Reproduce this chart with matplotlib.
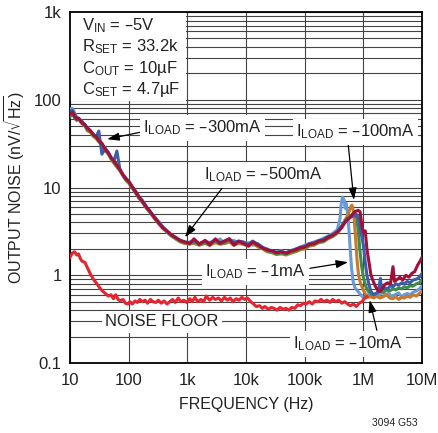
import numpy as np
import matplotlib.pyplot as plt
from matplotlib.patches import Rectangle
from matplotlib.ticker import LogLocator, NullLocator

plt.rcParams['font.family'] = ['Liberation Sans Narrow', 'Liberation Sans', 'DejaVu Sans']
plt.rcParams['mathtext.default'] = 'regular'

# frequency grid shared by the low/mid part of the load curves (Hz)
f_body = [10, 11, 12, 13, 14, 16, 18, 20, 22, 25, 28, 31, 35, 40, 45, 50, 56, 63, 71, 80,
          90, 100, 115, 130, 150, 170, 200, 230, 270, 320, 380, 450, 530, 630, 750, 900,
          1.1e3, 1.3e3, 1.6e3, 2e3, 2.4e3, 3e3, 3.6e3, 4.3e3, 5.2e3, 6.2e3, 7.5e3, 9e3,
          11e3, 13e3, 16e3, 19e3, 23e3, 28e3, 33e3, 40e3, 48e3, 58e3, 70e3, 84e3,
          100e3, 120e3, 145e3, 175e3, 210e3, 250e3, 300e3, 360e3]

# ILOAD = -1mA (light blue)
lb_body = [78, 80, 70, 64, 60, 57, 50, 48, 44, 41, 37, 35, 31, 28, 24, 22, 19, 17.5, 15.5, 14,
           12.8, 11.5, 10, 9.2, 7.6, 7.2, 6.1, 5.2, 4.7, 4.1, 3.6, 3.1, 2.9, 2.6, 2.5, 2.3,
           2.4, 2.3, 2.2, 2.45, 2.3, 2.4, 2.6, 2.3, 2.4, 2.5, 2.3, 2.3,
           2.35, 2.2, 2.3, 2.05, 2.0, 1.85, 1.85, 1.9, 1.8, 1.9, 2.0, 2.1,
           2.2, 2.3, 2.4, 2.5, 2.65, 2.8, 3.0, 3.3]
lb_tail_f = [400e3, 420e3, 440e3, 470e3, 490e3, 510e3, 540e3, 570e3, 600e3, 630e3, 670e3,
             720e3, 800e3, 900e3, 1.0e6, 1.1e6, 1.2e6, 1.35e6, 1.5e6, 1.7e6, 1.9e6, 2.1e6,
             2.4e6, 2.7e6, 3e6, 3.5e6, 4e6, 4.5e6, 5e6, 5.6e6, 6.3e6, 7e6, 8e6, 9e6, 10e6]
lb_tail = [4.4, 6.5, 7.8, 7.2, 5.8, 6.6, 5.0, 3.2, 1.9, 1.2, 0.85,
           0.72, 0.66, 0.6, 0.56, 0.55, 0.6, 0.62, 0.58, 0.62, 0.6, 0.64,
           0.6, 0.62, 0.58, 0.6, 0.63, 0.57, 0.6, 0.62, 0.6, 0.64, 0.66, 0.7, 0.75]

# ILOAD = -10mA (orange)
or_body = [66, 70, 62, 58, 60, 53, 50, 44, 43, 38, 36, 33, 30, 26, 24, 21, 19, 17, 15.5, 13.5,
           12, 11.2, 9.8, 8.7, 7.5, 6.8, 5.8, 5.2, 4.5, 3.9, 3.4, 3.1, 2.8, 2.6, 2.4, 2.3,
           2.25, 2.35, 2.2, 2.3, 2.2, 2.35, 2.25, 2.3, 2.4, 2.2, 2.3, 2.25,
           2.15, 2.3, 2.1, 2.0, 1.85, 1.8, 1.72, 1.75, 1.7, 1.78, 1.85, 1.95,
           2.0, 2.15, 2.2, 2.35, 2.4, 2.6, 2.75, 3.0]
or_tail_f = [400e3, 460e3, 520e3, 570e3, 610e3, 640e3, 670e3, 700e3, 740e3, 780e3, 830e3,
             900e3, 1.0e6, 1.1e6, 1.2e6, 1.35e6, 1.5e6, 1.7e6, 1.9e6, 2.2e6, 2.5e6, 2.8e6,
             3.2e6, 3.6e6, 4e6, 4.5e6, 5e6, 5.6e6, 6.3e6, 7e6, 8e6, 9e6, 10e6]
or_tail = [3.3, 4.0, 4.6, 5.3, 6.0, 6.3, 5.6, 4.3, 2.6, 1.5, 1.0,
           0.8, 0.68, 0.6, 0.56, 0.57, 0.55, 0.58, 0.55, 0.57, 0.6, 0.55,
           0.54, 0.57, 0.53, 0.56, 0.55, 0.58, 0.56, 0.6, 0.58, 0.62, 0.66]

# ILOAD = -100mA (green)
gr_body = [64, 69, 63, 59, 61, 54, 51, 45, 44, 39, 37, 34, 31, 27, 24.5, 21.5, 19.5, 17.5, 15.8, 13.8,
           12.2, 11.5, 10, 8.9, 7.6, 6.9, 5.9, 5.3, 4.6, 4.0, 3.5, 3.15, 2.85, 2.65, 2.45, 2.35,
           2.3, 2.4, 2.25, 2.35, 2.3, 2.45, 2.3, 2.35, 2.5, 2.3, 2.4, 2.3,
           2.2, 2.35, 2.2, 2.05, 1.9, 1.85, 1.76, 1.8, 1.75, 1.83, 1.9, 2.0,
           2.05, 2.2, 2.25, 2.4, 2.45, 2.65, 2.8, 3.05]
gr_tail_f = [400e3, 460e3, 520e3, 580e3, 640e3, 700e3, 740e3, 780e3, 820e3, 870e3, 930e3,
             1.0e6, 1.1e6, 1.2e6, 1.35e6, 1.5e6, 1.7e6, 1.9e6, 2.2e6, 2.5e6, 2.8e6, 3.2e6,
             3.6e6, 4e6, 4.5e6, 5e6, 5.6e6, 6.3e6, 7e6, 8e6, 9e6, 10e6]
gr_tail = [3.4, 3.9, 4.4, 4.6, 4.9, 5.3, 5.0, 4.3, 3.2, 2.0, 1.3,
           0.95, 0.75, 0.66, 0.62, 0.6, 0.63, 0.66, 0.64, 0.68, 0.66, 0.7,
           0.68, 0.72, 0.7, 0.74, 0.72, 0.76, 0.75, 0.8, 0.82, 0.88]

# ILOAD = -300mA (blue)
bl_body = [74, 76, 68, 62, 61, 56, 51, 47, 44, 40, 38, 44, 24, 28, 25, 22, 20, 26, 16, 14,
           12.6, 11.8, 10.2, 9.1, 7.9, 7.1, 6.0, 5.3, 4.7, 4.1, 3.55, 3.2, 2.9, 2.7, 2.5, 2.4,
           2.35, 2.5, 2.3, 2.45, 2.35, 2.5, 2.35, 2.45, 2.6, 2.35, 2.45, 2.4,
           2.25, 2.45, 2.25, 2.1, 1.95, 1.88, 1.82, 1.86, 1.8, 1.9, 1.97, 2.08,
           2.12, 2.28, 2.33, 2.48, 2.55, 2.75, 2.9, 3.15]
bl_tail_f = [400e3, 460e3, 520e3, 580e3, 650e3, 720e3, 770e3, 820e3, 870e3, 920e3, 1.0e6,
             1.08e6, 1.15e6, 1.25e6, 1.35e6, 1.5e6, 1.65e6, 1.8e6, 1.95e6, 2.05e6, 2.3e6,
             2.6e6, 2.9e6, 3.2e6, 3.6e6, 4e6, 4.5e6, 5e6, 5.6e6, 6.3e6, 7e6, 8e6, 9e6, 10e6]
bl_tail = [3.4, 3.9, 4.3, 4.5, 4.7, 4.8, 4.9, 4.6, 3.8, 3.0, 2.2,
           1.4, 1.0, 0.78, 0.65, 0.6, 0.62, 0.65, 0.92, 0.68, 0.72,
           0.7, 0.76, 0.74, 0.8, 0.77, 0.82, 0.8, 0.85, 0.82, 0.88, 0.9, 0.95, 1.05]

# ILOAD = -500mA (dark red)
dr_body = [68, 72, 64, 60, 62, 55, 52, 47, 45, 40, 38, 34, 32, 27, 25, 22, 20, 18, 16, 14,
           12.5, 11.8, 10.2, 9.0, 7.8, 7.0, 6.0, 5.4, 4.6, 4.0, 3.5, 3.2, 2.9, 2.7, 2.5, 2.4,
           2.3, 2.6, 2.25, 2.5, 2.2, 2.6, 2.3, 2.45, 2.6, 2.2, 2.45, 2.3,
           2.15, 2.4, 2.2, 2.05, 1.95, 1.9, 1.8, 1.85, 1.78, 1.88, 1.95, 2.05,
           2.1, 2.25, 2.3, 2.45, 2.5, 2.7, 2.85, 3.1]
dr_tail_f = [430e3, 500e3, 580e3, 650e3, 720e3, 810e3, 880e3, 950e3, 1.0e6, 1.08e6, 1.15e6,
             1.25e6, 1.35e6, 1.45e6, 1.6e6, 1.75e6, 1.9e6, 2.1e6, 2.3e6, 2.6e6, 2.9e6,
             3.2e6, 3.4e6, 3.8e6, 4.2e6, 4.7e6, 5.3e6, 6e6, 6.7e6, 7.5e6, 8.4e6, 9.3e6, 10e6]
dr_tail = [3.5, 4.1, 4.5, 4.9, 5.3, 5.5, 5.3, 3.6, 3.1, 3.2, 2.0,
           1.4, 1.0, 0.88, 0.75, 0.68, 0.65, 0.7, 0.78, 0.82, 0.8,
           1.25, 0.85, 0.9, 0.95, 0.88, 1.0, 0.95, 1.05, 1.1, 1.3, 1.45, 1.6]

# noise floor (red)
nf_f = [10, 11, 12, 13, 14, 15, 16, 18, 20, 22, 25, 28, 32, 36, 40, 45, 50, 55, 60, 66,
        72, 80, 88, 96, 105, 115, 128, 140, 155, 170, 190, 210, 235, 260, 290, 320, 360,
        400, 450, 500, 560, 620, 700, 780, 870, 970, 1.1e3, 1.2e3, 1.35e3, 1.5e3, 1.7e3,
        1.9e3, 2.1e3, 2.4e3, 2.7e3, 3e3, 3.4e3, 3.8e3, 4.3e3, 4.8e3, 5.4e3, 6e3, 6.8e3,
        7.6e3, 8.5e3, 9.5e3, 10.6e3, 12e3, 13.5e3, 15e3, 17e3, 19e3, 21e3, 24e3, 27e3,
        30e3, 34e3, 38e3, 43e3, 48e3, 54e3, 60e3, 68e3, 76e3, 85e3, 95e3, 106e3, 120e3,
        135e3, 150e3, 170e3, 190e3, 210e3, 240e3, 270e3, 300e3, 340e3, 380e3, 430e3,
        480e3, 540e3, 600e3, 680e3, 760e3, 850e3, 950e3, 1.05e6, 1.15e6]
nf_v = [1.6, 1.8, 1.85, 1.7, 1.75, 1.55, 1.45, 1.4, 1.2, 1.05, 0.9, 0.82, 0.72, 0.66, 0.62,
        0.58, 0.6, 0.54, 0.6, 0.53, 0.51, 0.53, 0.48, 0.47, 0.5, 0.47, 0.51, 0.49, 0.53,
        0.5, 0.52, 0.48, 0.53, 0.5, 0.49, 0.52, 0.48, 0.51, 0.47, 0.5, 0.53, 0.49, 0.55,
        0.5, 0.52, 0.49, 0.54, 0.5, 0.56, 0.5, 0.53, 0.5, 0.58, 0.52, 0.56, 0.53, 0.55,
        0.51, 0.56, 0.52, 0.55, 0.5, 0.54, 0.52, 0.56, 0.53, 0.55, 0.5, 0.47, 0.44, 0.45,
        0.42, 0.44, 0.41, 0.43, 0.42, 0.4, 0.43, 0.41, 0.42, 0.4, 0.43, 0.42, 0.46, 0.45,
        0.48, 0.47, 0.5, 0.47, 0.51, 0.5, 0.53, 0.5, 0.52, 0.49, 0.53, 0.5, 0.52, 0.48,
        0.5, 0.47, 0.45, 0.47, 0.44, 0.48, 0.5, 0.55, 0.57]

x_ticks = [10, 100, 1e3, 1e4, 1e5, 1e6, 1e7]
x_labels = ['10', '100', '1k', '10k', '100k', '1M', '10M']
y_ticks = [0.1, 1, 10, 100, 1000]
y_labels = ['0.1', '1', '10', '100', '1k']

series = [
    (lb_body, lb_tail_f, lb_tail, '#6b9bd6'),
    (or_body, or_tail_f, or_tail, '#c8792c'),
    (gr_body, gr_tail_f, gr_tail, '#3d8c4a'),
    (bl_body, bl_tail_f, bl_tail, '#3b5daa'),
    (dr_body, dr_tail_f, dr_tail, '#a01038'),
]

W, H = 438, 433
fig = plt.figure(figsize=(W / 100, H / 100), dpi=100)
ax = fig.add_axes([70 / W, 70 / H, 352 / W, 351 / H])
ax.set_xscale('log')
ax.set_yscale('log')
ax.set_xlim(10, 1e7)
ax.set_ylim(0.1, 1000)

ax.xaxis.set_minor_locator(NullLocator())
ax.yaxis.set_minor_locator(LogLocator(base=10, subs=np.arange(2, 10)))
ax.set_xticks(x_ticks, x_labels)
ax.set_yticks(y_ticks, y_labels)
ax.tick_params(which='both', length=0, labelsize=12, colors='#222222')
ax.tick_params(axis='x', pad=7)
ax.tick_params(axis='y', pad=6)
ax.grid(which='major', axis='both', color='#444444', lw=0.8)
ax.grid(which='minor', axis='y', color='#444444', lw=0.8)
ax.set_axisbelow(True)
for s in ax.spines.values():
    s.set_linewidth(1.3)

for body, tf, tv, col in series:
    ax.plot(list(f_body) + tf, body + tv, color=col, lw=2.2, zorder=3, solid_joinstyle='round')
ax.plot(nf_f, nf_v, color='#e3262f', lw=2.2, zorder=3, solid_joinstyle='round')

ax.set_xlabel('FREQUENCY (Hz)', fontsize=11.5, labelpad=7, color='#222222')
ax.set_ylabel(r'OUTPUT NOISE (nV/$\sqrt{Hz}$)', fontsize=11.5, labelpad=5, color='#222222')

# white panel behind the conditions text
ax.add_patch(Rectangle((70 / W, (H - 101) / H), 116 / W, 89 / H, transform=fig.transFigure,
                       facecolor='white', edgecolor='none', zorder=2))
cond = [r'V$_{IN}$ = –5V', r'R$_{SET}$ = 33.2k', r'C$_{OUT}$ = 10µF', r'C$_{SET}$ = 4.7µF']
for i, t in enumerate(cond):
    fig.text(82 / W, 1 - (30 + i * 21.3) / H, t, fontsize=12, va='baseline', ha='left',
             color='#222222', zorder=5)

box = dict(boxstyle='square,pad=0.2', fc='white', ec='none')
labels = [
    (r'I$_{LOAD}$ = –300mA', 143, 128),
    (r'I$_{LOAD}$ = –100mA', 296, 132),
    (r'I$_{LOAD}$ = –500mA', 204, 175),
    (r'I$_{LOAD}$ = –1mA', 205, 272),
    (r'I$_{LOAD}$ = –10mA', 293, 344),
    ('NOISE FLOOR', 105, 322),
]
for t, x, y in labels:
    fig.text(x / W, 1 - y / H, t, fontsize=12, va='center', ha='left', color='#222222',
             bbox=box, zorder=5)

arrows = [
    ((43, 35.5), (156, 42.6)),
    ((690e3, 7.2), (550e3, 31.9)),
    ((910, 2.71), (3.9e3, 9.8)),
    ((550e3, 1.41), (123e3, 1.2)),
    ((1.28e6, 0.52), (1.7e6, 0.236)),
]
for head, tail in arrows:
    ax.annotate('', xy=head, xytext=tail,
                arrowprops=dict(arrowstyle='-|>,head_length=0.6,head_width=0.2', color='black',
                                lw=0.9, mutation_scale=12, shrinkA=0, shrinkB=0), zorder=6)

fig.text(418 / W, 1 - 423 / H, '3094 G53', fontsize=7.5, ha='right', va='center', color='#222222')

fig.savefig('out.png', dpi=100)
